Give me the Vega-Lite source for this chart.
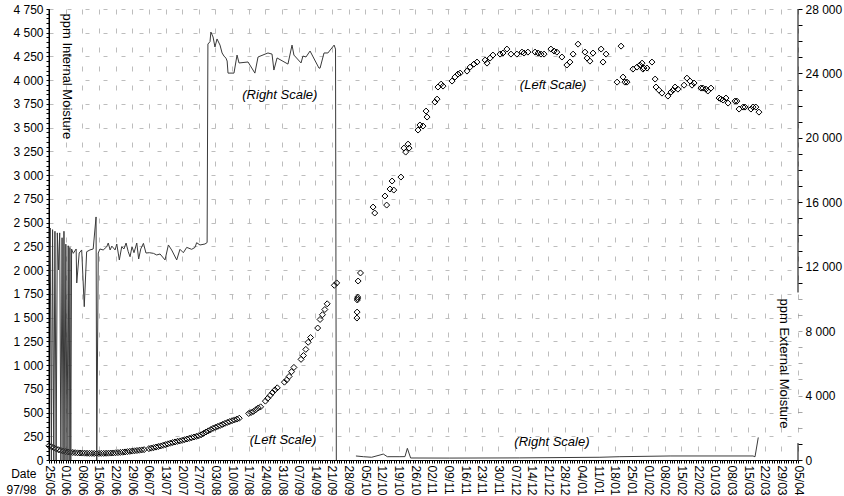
{
  "$schema": "https://vega.github.io/schema/vega-lite/v6.json",
  "width": 749,
  "height": 451,
  "autosize": {"type": "none"},
  "padding": {"left": 49, "top": 9, "right": 46, "bottom": 36},
  "background": "white",
  "config": {
    "font": "Liberation Sans",
    "view": {"stroke": null},
    "axis": {
      "labelFont": "Liberation Sans",
      "labelFontSize": 12,
      "labelColor": "black",
      "titleFont": "Liberation Sans",
      "titleFontSize": 13,
      "titleFontWeight": "normal",
      "titleColor": "black",
      "domainColor": "black",
      "domainWidth": 1,
      "tickColor": "black",
      "gridColor": "#bdbdbd",
      "labelFlush": false
    },
    "text": {"fontStyle": "italic", "fontSize": 13, "font": "Liberation Sans", "align": "center", "baseline": "middle", "color": "black"}
  },
  "datasets": {
    "internal": [
      {"d": "1997-05-25", "v": 150}, {"d": "1997-05-26", "v": 140}, {"d": "1997-05-27", "v": 128},
      {"d": "1997-05-28", "v": 118}, {"d": "1997-05-29", "v": 108}, {"d": "1997-05-30", "v": 100},
      {"d": "1997-05-31", "v": 94}, {"d": "1997-06-01", "v": 89}, {"d": "1997-06-02", "v": 85},
      {"d": "1997-06-03", "v": 82}, {"d": "1997-06-04", "v": 79}, {"d": "1997-06-05", "v": 77},
      {"d": "1997-06-06", "v": 75}, {"d": "1997-06-07", "v": 74}, {"d": "1997-06-08", "v": 73},
      {"d": "1997-06-09", "v": 72}, {"d": "1997-06-10", "v": 71}, {"d": "1997-06-11", "v": 70},
      {"d": "1997-06-12", "v": 70}, {"d": "1997-06-13", "v": 69}, {"d": "1997-06-14", "v": 69},
      {"d": "1997-06-15", "v": 69}, {"d": "1997-06-16", "v": 70}, {"d": "1997-06-17", "v": 70},
      {"d": "1997-06-18", "v": 71}, {"d": "1997-06-19", "v": 72}, {"d": "1997-06-20", "v": 73},
      {"d": "1997-06-21", "v": 74}, {"d": "1997-06-22", "v": 76}, {"d": "1997-06-23", "v": 78},
      {"d": "1997-06-24", "v": 80}, {"d": "1997-06-25", "v": 82}, {"d": "1997-06-26", "v": 85},
      {"d": "1997-06-27", "v": 88}, {"d": "1997-06-28", "v": 91}, {"d": "1997-06-29", "v": 94},
      {"d": "1997-06-30", "v": 97}, {"d": "1997-07-01", "v": 100}, {"d": "1997-07-02", "v": 103},
      {"d": "1997-07-03", "v": 106}, {"d": "1997-07-04", "v": 109},
      {"d": "1997-07-06", "v": 120}, {"d": "1997-07-07", "v": 125}, {"d": "1997-07-08", "v": 130},
      {"d": "1997-07-09", "v": 136}, {"d": "1997-07-10", "v": 142}, {"d": "1997-07-11", "v": 148},
      {"d": "1997-07-12", "v": 155}, {"d": "1997-07-13", "v": 162}, {"d": "1997-07-14", "v": 170},
      {"d": "1997-07-15", "v": 177}, {"d": "1997-07-16", "v": 184}, {"d": "1997-07-17", "v": 190},
      {"d": "1997-07-18", "v": 196}, {"d": "1997-07-19", "v": 201}, {"d": "1997-07-20", "v": 207},
      {"d": "1997-07-21", "v": 214}, {"d": "1997-07-22", "v": 221}, {"d": "1997-07-23", "v": 228},
      {"d": "1997-07-24", "v": 235}, {"d": "1997-07-25", "v": 242}, {"d": "1997-07-26", "v": 249},
      {"d": "1997-07-27", "v": 256}, {"d": "1997-07-28", "v": 266}, {"d": "1997-07-29", "v": 280},
      {"d": "1997-07-30", "v": 295}, {"d": "1997-07-31", "v": 307}, {"d": "1997-08-01", "v": 320},
      {"d": "1997-08-02", "v": 334}, {"d": "1997-08-03", "v": 344}, {"d": "1997-08-04", "v": 354},
      {"d": "1997-08-05", "v": 364}, {"d": "1997-08-06", "v": 375}, {"d": "1997-08-07", "v": 386},
      {"d": "1997-08-08", "v": 396}, {"d": "1997-08-09", "v": 405}, {"d": "1997-08-10", "v": 414},
      {"d": "1997-08-11", "v": 422}, {"d": "1997-08-12", "v": 431}, {"d": "1997-08-13", "v": 440},
      {"d": "1997-08-17", "v": 490}, {"d": "1997-08-18", "v": 500}, {"d": "1997-08-19", "v": 512},
      {"d": "1997-08-20", "v": 530}, {"d": "1997-08-21", "v": 548}, {"d": "1997-08-22", "v": 560},
      {"d": "1997-08-24", "v": 620}, {"d": "1997-08-25", "v": 650}, {"d": "1997-08-26", "v": 680},
      {"d": "1997-08-27", "v": 710}, {"d": "1997-08-28", "v": 738}, {"d": "1997-08-29", "v": 760},
      {"d": "1997-09-01", "v": 820}, {"d": "1997-09-02", "v": 845}, {"d": "1997-09-03", "v": 880},
      {"d": "1997-09-04", "v": 930}, {"d": "1997-09-05", "v": 975},
      {"d": "1997-09-08", "v": 1060}, {"d": "1997-09-09", "v": 1100}, {"d": "1997-09-10", "v": 1165},
      {"d": "1997-09-11", "v": 1240}, {"d": "1997-09-12", "v": 1290},
      {"d": "1997-09-15", "v": 1390}, {"d": "1997-09-16", "v": 1480}, {"d": "1997-09-17", "v": 1530},
      {"d": "1997-09-18", "v": 1585}, {"d": "1997-09-19", "v": 1645},
      {"d": "1997-09-22", "v": 1840}, {"d": "1997-09-23", "v": 1865},
      {"d": "1997-10-01T12:00Z", "v": 1495}, {"d": "1997-10-01T14:00Z", "v": 1558},
      {"d": "1997-10-01T16:00Z", "v": 1685}, {"d": "1997-10-01T18:00Z", "v": 1700},
      {"d": "1997-10-01T20:00Z", "v": 1716}, {"d": "1997-10-02", "v": 1885}, {"d": "1997-10-03", "v": 1970},
      {"d": "1997-10-08T07:00Z", "v": 2664}, {"d": "1997-10-09", "v": 2601},
      {"d": "1997-10-13T07:00Z", "v": 2780}, {"d": "1997-10-14", "v": 2685},
      {"d": "1997-10-15T10:00Z", "v": 2854}, {"d": "1997-10-16T07:00Z", "v": 2938},
      {"d": "1997-10-17", "v": 2843}, {"d": "1997-10-20", "v": 2980},
      {"d": "1997-10-21T07:00Z", "v": 3285}, {"d": "1997-10-22", "v": 3243},
      {"d": "1997-10-23", "v": 3327}, {"d": "1997-10-23T10:00Z", "v": 3285},
      {"d": "1997-10-27T05:00Z", "v": 3475}, {"d": "1997-10-28", "v": 3528},
      {"d": "1997-10-29T07:00Z", "v": 3517}, {"d": "1997-10-30T14:00Z", "v": 3675},
      {"d": "1997-10-31", "v": 3612}, {"d": "1997-11-03T07:00Z", "v": 3770},
      {"d": "1997-11-04T05:00Z", "v": 3801}, {"d": "1997-11-04T14:00Z", "v": 3928},
      {"d": "1997-11-05T22:00Z", "v": 3959}, {"d": "1997-11-06T17:00Z", "v": 3938},
      {"d": "1997-11-10T12:00Z", "v": 3991}, {"d": "1997-11-11T17:00Z", "v": 4033},
      {"d": "1997-11-13", "v": 4065}, {"d": "1997-11-13T22:00Z", "v": 4075},
      {"d": "1997-11-16T19:00Z", "v": 4096}, {"d": "1997-11-18T02:00Z", "v": 4138},
      {"d": "1997-11-19T17:00Z", "v": 4170}, {"d": "1997-11-21", "v": 4191},
      {"d": "1997-11-24T10:00Z", "v": 4212}, {"d": "1997-11-25T05:00Z", "v": 4180},
      {"d": "1997-11-26T12:00Z", "v": 4233}, {"d": "1997-11-27T17:00Z", "v": 4265},
      {"d": "1997-11-30T17:00Z", "v": 4275}, {"d": "1997-12-01T22:00Z", "v": 4286},
      {"d": "1997-12-03T14:00Z", "v": 4328}, {"d": "1997-12-05T07:00Z", "v": 4275},
      {"d": "1997-12-07T19:00Z", "v": 4275}, {"d": "1997-12-09T22:00Z", "v": 4296},
      {"d": "1997-12-10T19:00Z", "v": 4286}, {"d": "1997-12-12T10:00Z", "v": 4296},
      {"d": "1997-12-15T10:00Z", "v": 4296}, {"d": "1997-12-16T17:00Z", "v": 4286},
      {"d": "1997-12-17T22:00Z", "v": 4275}, {"d": "1997-12-19T05:00Z", "v": 4275},
      {"d": "1997-12-22T02:00Z", "v": 4328}, {"d": "1997-12-23T10:00Z", "v": 4307},
      {"d": "1997-12-24T14:00Z", "v": 4296}, {"d": "1997-12-26T17:00Z", "v": 4244},
      {"d": "1997-12-28T19:00Z", "v": 4160}, {"d": "1997-12-30T02:00Z", "v": 4191},
      {"d": "1997-12-31T10:00Z", "v": 4275}, {"d": "1998-01-02T12:00Z", "v": 4380},
      {"d": "1998-01-05T10:00Z", "v": 4296}, {"d": "1998-01-06T07:00Z", "v": 4233},
      {"d": "1998-01-07T12:00Z", "v": 4201}, {"d": "1998-01-08T19:00Z", "v": 4286},
      {"d": "1998-01-12T05:00Z", "v": 4328}, {"d": "1998-01-13", "v": 4191},
      {"d": "1998-01-14T07:00Z", "v": 4275}, {"d": "1998-01-18T22:00Z", "v": 3980},
      {"d": "1998-01-20T14:00Z", "v": 4359}, {"d": "1998-01-21T10:00Z", "v": 4033},
      {"d": "1998-01-22T05:00Z", "v": 3980}, {"d": "1998-01-23T02:00Z", "v": 3980},
      {"d": "1998-01-25T14:00Z", "v": 4117}, {"d": "1998-01-27T07:00Z", "v": 4138},
      {"d": "1998-01-28T12:00Z", "v": 4160}, {"d": "1998-01-29T10:00Z", "v": 4180},
      {"d": "1998-01-29T19:00Z", "v": 4117}, {"d": "1998-01-30T05:00Z", "v": 4128},
      {"d": "1998-01-31T12:00Z", "v": 4128}, {"d": "1998-02-02T14:00Z", "v": 4191},
      {"d": "1998-02-03T22:00Z", "v": 4012}, {"d": "1998-02-04T07:00Z", "v": 3928},
      {"d": "1998-02-05T12:00Z", "v": 3896}, {"d": "1998-02-06T19:00Z", "v": 3864},
      {"d": "1998-02-09T07:00Z", "v": 3833}, {"d": "1998-02-10T14:00Z", "v": 3875},
      {"d": "1998-02-11T10:00Z", "v": 3896}, {"d": "1998-02-12T07:00Z", "v": 3928},
      {"d": "1998-02-13T12:00Z", "v": 3906}, {"d": "1998-02-16T02:00Z", "v": 3948},
      {"d": "1998-02-17T07:00Z", "v": 4022}, {"d": "1998-02-18T14:00Z", "v": 3991},
      {"d": "1998-02-19T10:00Z", "v": 3948}, {"d": "1998-02-20T07:00Z", "v": 3970},
      {"d": "1998-02-23T05:00Z", "v": 3917}, {"d": "1998-02-24", "v": 3917},
      {"d": "1998-02-25T07:00Z", "v": 3906}, {"d": "1998-02-26T02:00Z", "v": 3886},
      {"d": "1998-02-27T10:00Z", "v": 3917}, {"d": "1998-03-02T19:00Z", "v": 3812},
      {"d": "1998-03-03T14:00Z", "v": 3801}, {"d": "1998-03-04T12:00Z", "v": 3791},
      {"d": "1998-03-05T17:00Z", "v": 3812}, {"d": "1998-03-06T14:00Z", "v": 3759},
      {"d": "1998-03-09T12:00Z", "v": 3780}, {"d": "1998-03-10T07:00Z", "v": 3780},
      {"d": "1998-03-11T05:00Z", "v": 3696}, {"d": "1998-03-12T22:00Z", "v": 3717},
      {"d": "1998-03-13T17:00Z", "v": 3717}, {"d": "1998-03-16T05:00Z", "v": 3696},
      {"d": "1998-03-17T02:00Z", "v": 3717}, {"d": "1998-03-18T07:00Z", "v": 3717},
      {"d": "1998-03-19T14:00Z", "v": 3664}
    ],
    "external": [
      {"d": "1997-05-25T00:00Z", "v": 11000, "s": 1}, {"d": "1997-05-25T12:00Z", "v": 14400, "s": 1},
      {"d": "1997-05-26T00:00Z", "v": 0, "s": 1}, {"d": "1997-05-26T12:00Z", "v": 14300, "s": 1},
      {"d": "1997-05-27T00:00Z", "v": 0, "s": 1}, {"d": "1997-05-27T12:00Z", "v": 14200, "s": 1},
      {"d": "1997-05-28T00:00Z", "v": 0, "s": 1}, {"d": "1997-05-28T12:00Z", "v": 14100, "s": 1},
      {"d": "1997-05-29T00:00Z", "v": 11800, "s": 1}, {"d": "1997-05-29T12:00Z", "v": 14100, "s": 1},
      {"d": "1997-05-30T00:00Z", "v": 0, "s": 1}, {"d": "1997-05-30T12:00Z", "v": 13800, "s": 1},
      {"d": "1997-05-30T22:00Z", "v": 0, "s": 1}, {"d": "1997-05-31T07:00Z", "v": 14200, "s": 1},
      {"d": "1997-05-31T17:00Z", "v": 0, "s": 1}, {"d": "1997-06-01T02:00Z", "v": 13400, "s": 1},
      {"d": "1997-06-01T14:00Z", "v": 0, "s": 1}, {"d": "1997-06-02T02:00Z", "v": 13300, "s": 1},
      {"d": "1997-06-02T11:00Z", "v": 0, "s": 1}, {"d": "1997-06-02T19:00Z", "v": 13200, "s": 1},
      {"d": "1997-06-03T04:00Z", "v": 0, "s": 1}, {"d": "1997-06-03T12:00Z", "v": 13100, "s": 1},
      {"d": "1997-06-04T05:00Z", "v": 12830, "s": 1}, {"d": "1997-06-05T10:00Z", "v": 13100, "s": 1},
      {"d": "1997-06-05T16:00Z", "v": 10990, "s": 1}, {"d": "1997-06-06T17:00Z", "v": 12850, "s": 1},
      {"d": "1997-06-07T18:00Z", "v": 13040, "s": 1}, {"d": "1997-06-08T20:00Z", "v": 9520, "s": 1},
      {"d": "1997-06-09T20:00Z", "v": 12930, "s": 1}, {"d": "1997-06-11T05:00Z", "v": 13040, "s": 1},
      {"d": "1997-06-12T14:00Z", "v": 13100, "s": 1}, {"d": "1997-06-13T19:00Z", "v": 15090, "s": 1},
      {"d": "1997-06-14T02:00Z", "v": 0, "s": 1}, {"d": "1997-06-14T17:00Z", "v": 12850, "s": 1},
      {"d": "1997-06-15T10:00Z", "v": 13100, "s": 1}, {"d": "1997-06-16T19:00Z", "v": 13040, "s": 1},
      {"d": "1997-06-18T07:00Z", "v": 13240, "s": 1}, {"d": "1997-06-18T22:00Z", "v": 13470, "s": 1},
      {"d": "1997-06-19T17:00Z", "v": 13040, "s": 1}, {"d": "1997-06-20T10:00Z", "v": 13280, "s": 1},
      {"d": "1997-06-21T19:00Z", "v": 13040, "s": 1}, {"d": "1997-06-22T12:00Z", "v": 13410, "s": 1},
      {"d": "1997-06-23T14:00Z", "v": 12420, "s": 1}, {"d": "1997-06-24T14:00Z", "v": 13240, "s": 1},
      {"d": "1997-06-25T12:00Z", "v": 13100, "s": 1}, {"d": "1997-06-26T10:00Z", "v": 13470, "s": 1},
      {"d": "1997-06-27T08:00Z", "v": 12930, "s": 1}, {"d": "1997-06-28T02:00Z", "v": 12620, "s": 1},
      {"d": "1997-06-28T22:00Z", "v": 13240, "s": 1}, {"d": "1997-06-29T18:00Z", "v": 12870, "s": 1},
      {"d": "1997-06-30T22:00Z", "v": 13470, "s": 1}, {"d": "1997-07-01T17:00Z", "v": 12480, "s": 1},
      {"d": "1997-07-02T14:00Z", "v": 13100, "s": 1}, {"d": "1997-07-03T17:00Z", "v": 13450, "s": 1},
      {"d": "1997-07-04T19:00Z", "v": 12850, "s": 1}, {"d": "1997-07-06T05:00Z", "v": 12870, "s": 1},
      {"d": "1997-07-07T22:00Z", "v": 12830, "s": 1}, {"d": "1997-07-09T07:00Z", "v": 12730, "s": 1},
      {"d": "1997-07-10T17:00Z", "v": 12790, "s": 1}, {"d": "1997-07-12T19:00Z", "v": 12420, "s": 1},
      {"d": "1997-07-14T05:00Z", "v": 13350, "s": 1}, {"d": "1997-07-15T14:00Z", "v": 13040, "s": 1},
      {"d": "1997-07-17T17:00Z", "v": 12420, "s": 1}, {"d": "1997-07-19T02:00Z", "v": 13080, "s": 1},
      {"d": "1997-07-20T12:00Z", "v": 12870, "s": 1}, {"d": "1997-07-21T22:00Z", "v": 13200, "s": 1},
      {"d": "1997-07-24T00:00Z", "v": 13080, "s": 1}, {"d": "1997-07-25T10:00Z", "v": 13200, "s": 1},
      {"d": "1997-07-26T02:00Z", "v": 13490, "s": 1}, {"d": "1997-07-27T12:00Z", "v": 13350, "s": 1},
      {"d": "1997-07-29T14:00Z", "v": 13410, "s": 1}, {"d": "1997-07-30T12:00Z", "v": 13500, "s": 1},
      {"d": "1997-07-30T20:00Z", "v": 25825, "s": 1}, {"d": "1997-07-31T17:00Z", "v": 25970, "s": 1},
      {"d": "1997-08-01T02:00Z", "v": 26570, "s": 1}, {"d": "1997-08-02T00:00Z", "v": 26260, "s": 1},
      {"d": "1997-08-02T19:00Z", "v": 25640, "s": 1}, {"d": "1997-08-03T16:00Z", "v": 26140, "s": 1},
      {"d": "1997-08-04T22:00Z", "v": 25760, "s": 1}, {"d": "1997-08-05T19:00Z", "v": 25270, "s": 1},
      {"d": "1997-08-06T14:00Z", "v": 25080, "s": 1}, {"d": "1997-08-07T10:00Z", "v": 24950, "s": 1},
      {"d": "1997-08-07T22:00Z", "v": 24770, "s": 1}, {"d": "1997-08-08T07:00Z", "v": 24020, "s": 1},
      {"d": "1997-08-10T19:00Z", "v": 24020, "s": 1}, {"d": "1997-08-12T02:00Z", "v": 25140, "s": 1},
      {"d": "1997-08-12T22:00Z", "v": 24650, "s": 1}, {"d": "1997-08-16T17:00Z", "v": 24710, "s": 1},
      {"d": "1997-08-19T14:00Z", "v": 24020, "s": 1}, {"d": "1997-08-20T22:00Z", "v": 25020, "s": 1},
      {"d": "1997-08-25T02:00Z", "v": 25270, "s": 1}, {"d": "1997-08-26T19:00Z", "v": 25200, "s": 1},
      {"d": "1997-08-27T14:00Z", "v": 24210, "s": 1}, {"d": "1997-08-28T22:00Z", "v": 24960, "s": 1},
      {"d": "1997-09-02T12:00Z", "v": 24580, "s": 1}, {"d": "1997-09-04T05:00Z", "v": 25760, "s": 1},
      {"d": "1997-09-05T00:00Z", "v": 25140, "s": 1}, {"d": "1997-09-08T00:00Z", "v": 24650, "s": 1},
      {"d": "1997-09-08T19:00Z", "v": 25080, "s": 1}, {"d": "1997-09-10T02:00Z", "v": 25020, "s": 1},
      {"d": "1997-09-11T19:00Z", "v": 25390, "s": 1}, {"d": "1997-09-15T13:00Z", "v": 24330, "s": 1},
      {"d": "1997-09-16T00:00Z", "v": 24330, "s": 1}, {"d": "1997-09-17T16:00Z", "v": 25270, "s": 1},
      {"d": "1997-09-19T07:00Z", "v": 25270, "s": 1}, {"d": "1997-09-21T22:00Z", "v": 25760, "s": 1},
      {"d": "1997-09-22T12:00Z", "v": 25510, "s": 1}, {"d": "1997-09-22T20:00Z", "v": 0, "s": 1},
      {"d": "1997-10-01T02:00Z", "v": 250, "s": 2}, {"d": "1997-10-04T05:00Z", "v": 205, "s": 2},
      {"d": "1997-10-07T17:00Z", "v": 170, "s": 2}, {"d": "1997-10-11T05:00Z", "v": 310, "s": 2},
      {"d": "1997-10-12T14:00Z", "v": 370, "s": 2}, {"d": "1997-10-14T07:00Z", "v": 205, "s": 2},
      {"d": "1997-10-19T14:00Z", "v": 205, "s": 2}, {"d": "1997-10-21T17:00Z", "v": 210, "s": 2},
      {"d": "1997-10-22T17:00Z", "v": 725, "s": 2}, {"d": "1997-10-24T02:00Z", "v": 125, "s": 2},
      {"d": "1997-11-09T14:00Z", "v": 120, "s": 2}, {"d": "1997-12-09T00:00Z", "v": 130, "s": 2},
      {"d": "1998-01-11T17:00Z", "v": 170, "s": 2}, {"d": "1998-01-20T02:00Z", "v": 205, "s": 2},
      {"d": "1998-02-10T05:00Z", "v": 250, "s": 2}, {"d": "1998-03-17T02:00Z", "v": 250, "s": 2},
      {"d": "1998-03-17T22:00Z", "v": 200, "s": 2}, {"d": "1998-03-19T07:00Z", "v": 1400, "s": 2}
    ]
  },
  "layer": [
    {
      "data": {"name": "internal"},
      "mark": {"type": "point", "shape": "diamond", "filled": false, "stroke": "black", "strokeWidth": 1, "size": 36, "opacity": 1},
      "encoding": {
        "x": {
          "field": "d",
          "type": "temporal",
          "scale": {"type": "utc", "domain": [{"year": 1997, "month": 5, "date": 25, "utc": true}, {"year": 1998, "month": 4, "date": 5, "utc": true}]},
          "axis": {
            "orient": "bottom",
            "tickCount": {"interval": "day", "step": 1},
            "labelExpr": "utcday(datum.value) === 0 ? utcFormat(datum.value, '%d/%m') : ''",
            "labelAngle": 90,
            "labelOverlap": false,
            "labelPadding": 2,
            "tickSize": 3,
            "domain": true,
            "grid": true,
            "gridOpacity": {"condition": {"test": "utcday(datum.value) === 0", "value": 1}, "value": 0},
            "gridDash": [5, 14],
            "title": ["Date", "97/98"],
            "titleFontSize": 12,
            "titleX": -13,
            "titleY": 8,
            "titleAlign": "right",
            "titleBaseline": "top",
            "titleLineHeight": 16
          }
        },
        "y": {
          "field": "v",
          "type": "quantitative",
          "scale": {"domain": [0, 4750], "nice": false},
          "axis": {
            "orient": "left",
            "values": [0,50,100,150,200,250,300,350,400,450,500,550,600,650,700,750,800,850,900,950,1000,1050,1100,1150,1200,1250,1300,1350,1400,1450,1500,1550,1600,1650,1700,1750,1800,1850,1900,1950,2000,2050,2100,2150,2200,2250,2300,2350,2400,2450,2500,2550,2600,2650,2700,2750,2800,2850,2900,2950,3000,3050,3100,3150,3200,3250,3300,3350,3400,3450,3500,3550,3600,3650,3700,3750,3800,3850,3900,3950,4000,4050,4100,4150,4200,4250,4300,4350,4400,4450,4500,4550,4600,4650,4700,4750],
            "labelExpr": "datum.value % 250 === 0 ? replace(format(datum.value, ','), ',', ' ') : ''",
            "labelOverlap": false,
            "labelPadding": 3,
            "tickSize": 3,
            "domain": true,
            "ticks": true,
            "grid": true,
            "gridOpacity": {"condition": {"test": "datum.value % 250 === 0", "value": 1}, "value": 0},
            "gridDash": [4, 14],
            "title": "ppm Internal Moisture",
            "titleAngle": 90,
            "titleX": 17,
            "titleY": 4,
            "titleAlign": "left",
            "titleBaseline": "middle"
          }
        }
      }
    },
    {
      "data": {"name": "external"},
      "mark": {"type": "line", "color": "#3a3a3a", "strokeWidth": 1},
      "encoding": {
        "x": {
          "field": "d", "type": "temporal", "axis": null,
          "scale": {"type": "utc", "domain": [{"year": 1997, "month": 5, "date": 25, "utc": true}, {"year": 1998, "month": 4, "date": 5, "utc": true}]}
        },
        "y": {
          "field": "v",
          "type": "quantitative",
          "scale": {"domain": [0, 28000], "nice": false},
          "axis": {
            "orient": "right",
            "values": [0,1000,2000,3000,4000,5000,6000,7000,8000,9000,10000,11000,12000,13000,14000,15000,16000,17000,18000,19000,20000,21000,22000,23000,24000,25000,26000,27000,28000],
            "labelExpr": "datum.value % 4000 === 0 ? replace(format(datum.value, ','), ',', ' ') : ''",
            "labelOverlap": false,
            "labelPadding": 3,
            "tickSize": 4,
            "tickOpacity": {"condition": {"test": "datum.value > 1500 && datum.value < 10400", "value": 0.35}, "value": 1},
            "domain": false,
            "grid": false,
            "title": "ppm External Moisture",
            "titleAngle": 90,
            "titleX": -15,
            "titleY": 289,
            "titleAlign": "left",
            "titleBaseline": "middle"
          }
        },
        "detail": {"field": "s", "type": "nominal"}
      }
    },
    {
      "data": {"values": [{}]},
      "mark": {"type": "text", "text": "(Right Scale)"},
      "encoding": {
        "x": {"datum": {"year": 1997, "month": 8, "date": 30, "hours": 2, "utc": true}, "type": "temporal", "axis": null,
          "scale": {"type": "utc", "domain": [{"year": 1997, "month": 5, "date": 25, "utc": true}, {"year": 1998, "month": 4, "date": 5, "utc": true}]}},
        "y": {"datum": 3843, "type": "quantitative", "axis": null, "scale": {"domain": [0, 4750], "nice": false}}
      }
    },
    {
      "data": {"values": [{}]},
      "mark": {"type": "text", "text": "(Left Scale)"},
      "encoding": {
        "x": {"datum": {"year": 1997, "month": 12, "date": 23, "utc": true}, "type": "temporal", "axis": null,
          "scale": {"type": "utc", "domain": [{"year": 1997, "month": 5, "date": 25, "utc": true}, {"year": 1998, "month": 4, "date": 5, "utc": true}]}},
        "y": {"datum": 3949, "type": "quantitative", "axis": null, "scale": {"domain": [0, 4750], "nice": false}}
      }
    },
    {
      "data": {"values": [{}]},
      "mark": {"type": "text", "text": "(Left Scale)"},
      "encoding": {
        "x": {"datum": {"year": 1997, "month": 8, "date": 31, "hours": 10, "utc": true}, "type": "temporal", "axis": null,
          "scale": {"type": "utc", "domain": [{"year": 1997, "month": 5, "date": 25, "utc": true}, {"year": 1998, "month": 4, "date": 5, "utc": true}]}},
        "y": {"datum": 210, "type": "quantitative", "axis": null, "scale": {"domain": [0, 4750], "nice": false}}
      }
    },
    {
      "data": {"values": [{}]},
      "mark": {"type": "text", "text": "(Right Scale)"},
      "encoding": {
        "x": {"datum": {"year": 1997, "month": 12, "date": 22, "hours": 12, "utc": true}, "type": "temporal", "axis": null,
          "scale": {"type": "utc", "domain": [{"year": 1997, "month": 5, "date": 25, "utc": true}, {"year": 1998, "month": 4, "date": 5, "utc": true}]}},
        "y": {"datum": 190, "type": "quantitative", "axis": null, "scale": {"domain": [0, 4750], "nice": false}}
      }
    },
    {
      "data": {"values": [{}]},
      "mark": {"type": "rule", "color": "black", "strokeWidth": 1},
      "encoding": {
        "x": {"datum": {"year": 1997, "month": 5, "date": 25, "utc": true}, "type": "temporal", "axis": null,
          "scale": {"type": "utc", "domain": [{"year": 1997, "month": 5, "date": 25, "utc": true}, {"year": 1998, "month": 4, "date": 5, "utc": true}]}},
        "y": {"datum": 0, "type": "quantitative", "axis": null, "scale": {"domain": [0, 4750], "nice": false}},
        "y2": {"datum": 4750}
      }
    },
    {
      "data": {"values": [{}]},
      "mark": {"type": "rule", "color": "black", "strokeWidth": 1},
      "encoding": {
        "x": {"datum": {"year": 1998, "month": 4, "date": 5, "utc": true}, "type": "temporal", "axis": null,
          "scale": {"type": "utc", "domain": [{"year": 1997, "month": 5, "date": 25, "utc": true}, {"year": 1998, "month": 4, "date": 5, "utc": true}]}},
        "y": {"datum": 10400, "type": "quantitative", "axis": null, "scale": {"domain": [0, 28000], "nice": false}},
        "y2": {"datum": 28000}
      }
    },
    {
      "data": {"values": [{}]},
      "mark": {"type": "rule", "color": "black", "strokeWidth": 1},
      "encoding": {
        "x": {"datum": {"year": 1998, "month": 4, "date": 5, "utc": true}, "type": "temporal", "axis": null,
          "scale": {"type": "utc", "domain": [{"year": 1997, "month": 5, "date": 25, "utc": true}, {"year": 1998, "month": 4, "date": 5, "utc": true}]}},
        "y": {"datum": 0, "type": "quantitative", "axis": null, "scale": {"domain": [0, 28000], "nice": false}},
        "y2": {"datum": 1050}
      }
    }
  ],
  "resolve": {"scale": {"x": "independent", "y": "independent"}}
}
